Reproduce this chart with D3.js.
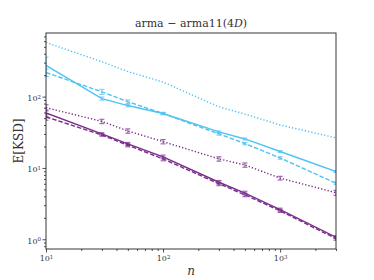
<!DOCTYPE html>
<html>
<head>
<meta charset="utf-8">
<script src="https://cdn.jsdelivr.net/npm/d3@7"></script>
<style>
  body { margin: 0; background: #fff; }
  text { font-family: "DejaVu Serif", "Liberation Serif", serif; fill: #333; }
</style>
</head>
<body>
<svg width="374" height="280"></svg>
<script>
// sample sizes
var ns = [10, 30, 50, 100, 300, 500, 1000, 3000];

// E[KSD] per series
var cyanSolid  = [275, 94, 75, 58, 32, 25.5, 17, 8.9];
var cyanDashed = [218, 117, 85, 58, 30, 22, 13.8, 6.1];
var cyanDotted = [575, 309, 225, 160, 72, 57, 40, 26.4];
var purpSolid  = [59, 30, 21.7, 14.3, 6.3, 4.45, 2.6, 1.07];
var purpDashed = [52, 29, 20.8, 13.4, 6.0, 4.2, 2.5, 1.02];
var purpDotted = [70, 45, 33, 23.4, 13.4, 11, 7.2, 4.5];

// relative half width of the error bars
var cyanSolidErr  = [0.3, 0.05, 0.04, 0.03, 0.03, 0.03, 0.03, 0.03];
var cyanDashedErr = [0.12, 0.08, 0.06, 0.04, 0.04, 0.04, 0.04, 0.04];
var cyanDottedErr = [0, 0, 0, 0, 0, 0, 0, 0];
var purpSolidErr  = [0.1, 0.04, 0.05, 0.06, 0.06, 0.06, 0.05, 0.05];
var purpDashedErr = [0.1, 0.04, 0.05, 0.06, 0.06, 0.06, 0.05, 0.05];
var purpDottedErr = [0.1, 0.07, 0.07, 0.07, 0.07, 0.07, 0.06, 0.08];

var cyan = "#4fc3f2", purple = "#7a2c8b";

var series = [
  {v: cyanDotted, e: cyanDottedErr, c: cyan, dash: "1.3,2"},
  {v: cyanDashed, e: cyanDashedErr, c: cyan, dash: "4.5,2"},
  {v: cyanSolid,  e: cyanSolidErr,  c: cyan, dash: null},
  {v: purpDotted, e: purpDottedErr, c: purple, dash: "1.3,2"},
  {v: purpDashed, e: purpDashedErr, c: purple, dash: "4.5,2"},
  {v: purpSolid,  e: purpSolidErr,  c: purple, dash: null}
];

var svg = d3.select("svg");
var L = 46, R = 336, T = 33, B = 249;

var x = d3.scaleLog().domain([10, 3000]).range([L, R]);
var y = d3.scaleLog().domain([0.73, 781]).range([B, T]);

svg.append("clipPath").attr("id", "c").append("rect")
    .attr("x", L).attr("y", T).attr("width", R - L).attr("height", B - T);

var g = svg.append("g").attr("clip-path", "url(#c)");

var line = d3.line()
    .x(function(d, i) { return x(ns[i]); })
    .y(function(d) { return y(d); });

series.forEach(function(s) {
  g.append("path")
      .attr("d", line(s.v))
      .attr("fill", "none")
      .attr("stroke", s.c)
      .attr("stroke-width", 1.4)
      .attr("stroke-dasharray", s.dash);

  var eb = g.selectAll(null)
      .data(s.v.map(function(d, i) { return {n: ns[i], v: d, e: s.e[i]}; })
                .filter(function(d) { return d.e > 0; }))
      .enter().append("g")
      .attr("stroke", s.c)
      .attr("stroke-width", 1.1)
      .attr("opacity", 0.75);
  eb.append("line")
      .attr("x1", function(d) { return x(d.n); })
      .attr("x2", function(d) { return x(d.n); })
      .attr("y1", function(d) { return y(d.v * (1 + d.e)); })
      .attr("y2", function(d) { return y(d.v * (1 - d.e)); });
  [1, -1].forEach(function(k) {
    eb.append("line")
        .attr("x1", function(d) { return x(d.n) - 2.5; })
        .attr("x2", function(d) { return x(d.n) + 2.5; })
        .attr("y1", function(d) { return y(d.v * (1 + k * d.e)); })
        .attr("y2", function(d) { return y(d.v * (1 + k * d.e)); });
  });
});

// frame
svg.append("rect")
    .attr("x", L).attr("y", T).attr("width", R - L).attr("height", B - T)
    .attr("fill", "none").attr("stroke", "#222").attr("stroke-width", 0.9);

// axes
var xMinor = [], yMinor = [];
[10, 100, 1000].forEach(function(p) {
  for (var k = 2; k < 10; k++) if (p * k <= 3000) xMinor.push(p * k);
});
[0.1, 1, 10, 100].forEach(function(p) {
  for (var k = 2; k < 10; k++) if (p * k >= 0.73 && p * k <= 781) yMinor.push(p * k);
});

function pow10(sel) {
  sel.each(function(d) {
    var t = d3.select(this).text("");
    t.append("tspan").text("10");
    t.append("tspan").attr("dy", "-0.45em").style("font-size", "5.5px")
        .text(Math.round(Math.log10(d)));
  });
}

var xAxis = svg.append("g").attr("transform", "translate(0," + B + ")");
xAxis.call(d3.axisBottom(x).tickValues([10, 100, 1000]).tickSize(3.5));
xAxis.append("g").call(d3.axisBottom(x).tickValues(xMinor).tickSize(2).tickFormat(""));

var yAxis = svg.append("g").attr("transform", "translate(" + L + ",0)");
yAxis.call(d3.axisLeft(y).tickValues([1, 10, 100]).tickSize(3.5));
yAxis.append("g").call(d3.axisLeft(y).tickValues(yMinor).tickSize(2).tickFormat(""));

svg.selectAll(".domain").remove();
svg.selectAll(".tick line").attr("stroke", "#222").attr("stroke-width", 0.8);
svg.selectAll(".tick text")
    .style("font-family", "'DejaVu Serif', serif")
    .style("font-size", "8px").attr("fill", "#444")
    .filter(function() { return this.textContent !== ""; })
    .call(pow10);
yAxis.selectAll(".tick text").attr("x", -5).attr("dy", "0.5em");

// title and labels
svg.append("text")
    .attr("x", (L + R) / 2).attr("y", 27)
    .attr("text-anchor", "middle").style("font-size", "11px")
    .html('arma \u2212 arma11(4<tspan font-style="italic">D</tspan>)');

svg.append("text")
    .attr("x", (L + R) / 2).attr("y", 275)
    .attr("text-anchor", "middle").style("font-size", "12px")
    .style("font-style", "italic").text("n");

svg.append("text")
    .attr("transform", "translate(23," + ((T + B) / 2) + ") rotate(-90)")
    .attr("text-anchor", "middle").style("font-size", "12px")
    .text("E[KSD]");
</script>
</body>
</html>
